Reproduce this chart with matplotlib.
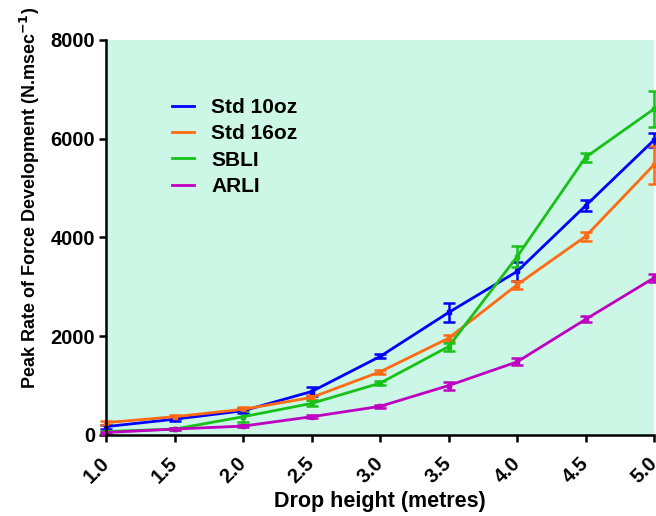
import matplotlib
matplotlib.use('Agg')
import matplotlib.pyplot as plt
from matplotlib.lines import Line2D

heights = [1.0, 1.5, 2.0, 2.5, 3.0, 3.5, 4.0, 4.5, 5.0]
series_names = ['Std 10oz', 'Std 16oz', 'SBLI', 'ARLI']
std10 = [170, 320, 490, 880, 1590, 2480, 3310, 4640, 5970]
std10_err = [40, 30, 50, 100, 40, 190, 200, 110, 150]
std16 = [250, 370, 520, 760, 1280, 1960, 3040, 4020, 5470]
std16_err = [40, 30, 40, 50, 40, 60, 80, 90, 380]
sbli = [70, 120, 370, 640, 1050, 1790, 3610, 5620, 6600]
sbli_err = [20, 20, 110, 60, 40, 80, 220, 90, 360]
arli = [50, 120, 180, 370, 580, 1000, 1480, 2340, 3180]
arli_err = [20, 20, 20, 30, 30, 80, 70, 60, 80]
colors = ['#0000ff', '#ff6a13', '#17c117', '#c000c0']


def main():
    plt.rcParams['font.family'] = ['Liberation Sans', 'DejaVu Sans']
    fig = plt.figure(figsize=(6.56, 5.16), dpi=100)
    ax = fig.add_axes([0.162, 0.157, 0.835, 0.766])
    ax.set_facecolor('#ccf6e6')

    data = [(std10, std10_err), (std16, std16_err), (sbli, sbli_err), (arli, arli_err)]
    handles = []
    for name, (vals, errs), col in zip(series_names, data, colors):
        ax.errorbar(heights, vals, yerr=errs, color=col, lw=2, marker='s', ms=3.5,
                    capsize=4, capthick=1.8, elinewidth=1.8, clip_on=False)
        handles.append(Line2D([], [], color=col, lw=2, label=name))

    ax.set_xlim(1.0, 5.0)
    ax.set_ylim(0, 8000)
    ax.set_xticks(heights)
    ax.set_xticklabels(['%.1f' % h for h in heights], rotation=45, fontsize=14.5,
                       fontweight='bold', ha='right', va='center', rotation_mode='anchor')
    ax.set_yticks([0, 2000, 4000, 6000, 8000])
    ax.set_yticklabels(['0', '2000', '4000', '6000', '8000'], fontsize=14.5, fontweight='bold')
    ax.spines['top'].set_visible(False)
    ax.spines['right'].set_visible(False)
    ax.spines['left'].set_linewidth(1.8)
    ax.spines['bottom'].set_linewidth(1.8)
    ax.tick_params(direction='out', length=5, width=1.8, pad=3)
    ax.tick_params(axis='x', pad=13)

    ax.set_xlabel('Drop height (metres)', fontsize=15.5, fontweight='bold', labelpad=3)
    ax.set_ylabel('Peak Rate of Force Development (N.msec$^{\\mathbf{-1}}$)', fontsize=13,
                  fontweight='bold')
    ax.yaxis.set_label_coords(-0.118, 0.6)

    ax.legend(handles=handles, loc='upper left', bbox_to_anchor=(0.085, 0.9), frameon=False,
              handlelength=1.1, handletextpad=0.8, labelspacing=0.35,
              prop={'size': 15, 'weight': 'bold'})

    fig.savefig('out.png', dpi=100)


if __name__ == '__main__':
    main()
